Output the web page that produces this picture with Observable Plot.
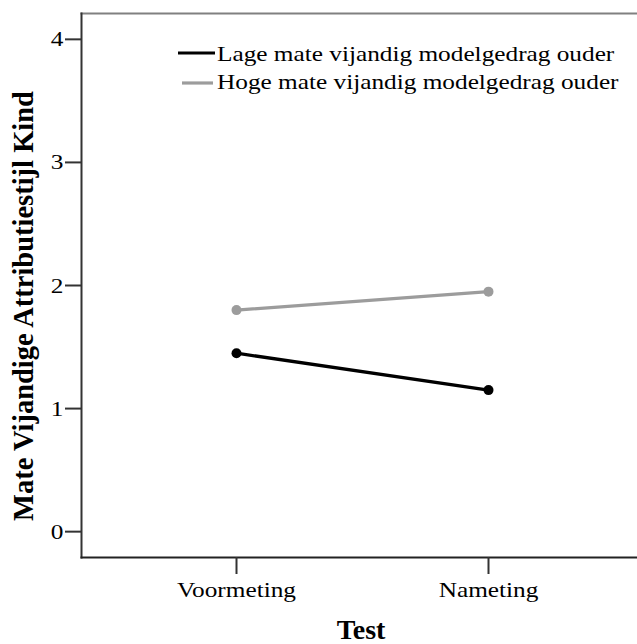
<!DOCTYPE html>
<html><head><meta charset="utf-8">
<script src="https://cdn.jsdelivr.net/npm/d3@7"></script>
<script src="https://cdn.jsdelivr.net/npm/@observablehq/plot@0.6"></script>
<style>
html,body{margin:0;padding:0;background:#fff;}
</style>
</head><body><div id="chart"></div>
<script>
const tests = ["Voormeting", "Nameting"];
const seriesNames = ["Lage mate vijandig modelgedrag ouder", "Hoge mate vijandig modelgedrag ouder"];
const seriesColors = ["#000000", "#9c9c9c"];
const lageValues = [1.45, 1.15];
const hogeValues = [1.80, 1.95];
const yTicks = [0, 1, 2, 3, 4];
const yDomain = [-0.21, 4.21];
const xTitle = "Test";
const yTitle = "Mate Vijandige Attributiestijl Kind";

const data = [
  ...tests.map((t, i) => ({test: t, value: lageValues[i], series: seriesNames[0]})),
  ...tests.map((t, i) => ({test: t, value: hogeValues[i], series: seriesNames[1]}))
];

const W = 637, H = 644, ML = 81, MR = 0, MT = 13, MB = 87;
const font = "'Liberation Serif', 'Times New Roman', serif";
const stretch = 1.15;
const fs = 22;

const chart = Plot.plot({
  width: W, height: H, marginLeft: ML, marginRight: MR, marginTop: MT, marginBottom: MB,
  style: {fontFamily: font, fontSize: fs + "px", color: "#000", background: "#fff"},
  x: {type: "point", domain: tests, padding: 0.603, align: 0.51},
  y: {domain: yDomain},
  color: {domain: seriesNames, range: seriesColors},
  marks: [
    Plot.frame({anchor: "top", stroke: "#808080", strokeWidth: 2}),
    Plot.frame({anchor: "left", stroke: "#333", strokeWidth: 2}),
    Plot.frame({anchor: "bottom", stroke: "#222", strokeWidth: 2}),
    Plot.axisY(yTicks, {tickSize: 16, tickPadding: 2, stroke: "#333", strokeWidth: 2, fill: "#000", label: null, fontSize: fs, tickFormat: d3.format("d")}),
    Plot.axisX(tests, {tickSize: 17, tickPadding: 7, stroke: "#333", strokeWidth: 2, fill: "#000", label: null, fontSize: fs}),
    Plot.line(data, {x: "test", y: "value", z: "series", stroke: "series", strokeWidth: 3.3}),
    Plot.dot(data, {x: "test", y: "value", fill: "series", r: 5})
  ]
});

document.getElementById("chart").appendChild(chart);
const svg = d3.select(chart.tagName.toLowerCase() === "svg" ? chart : chart.querySelector("svg"));

// horizontal stretch of regular text (reference text is horizontally widened)
svg.selectAll('g[aria-label="y-axis tick label"] text, g[aria-label="x-axis tick label"] text').each(function() {
  const el = d3.select(this);
  let tr = el.attr("transform");
  if (!tr) {
    const x = +el.attr("x") || 0, y = +el.attr("y") || 0;
    el.attr("x", null).attr("y", null);
    tr = `translate(${x},${y})`;
  }
  el.attr("transform", tr + ` scale(${stretch},1)`);
});

// legend
const legendRows = [
  {x1: 178, x2: 215, ly: 53, ty: 61},
  {x1: 182, x2: 213, ly: 83, ty: 89}
];
const lg = svg.append("g").attr("font-family", font).attr("font-size", fs).attr("text-anchor", "start");
seriesNames.forEach((name, i) => {
  const r = legendRows[i];
  lg.append("line").attr("x1", r.x1).attr("x2", r.x2).attr("y1", r.ly).attr("y2", r.ly)
    .attr("stroke", seriesColors[i]).attr("stroke-width", 3.2);
  lg.append("text").attr("transform", `translate(217,${r.ty}) scale(${stretch},1)`)
    .attr("text-anchor", "start").attr("fill", "#000").text(name);
});

// axis titles
svg.append("text").attr("transform", "translate(361,639)")
  .attr("text-anchor", "middle").attr("font-family", font).attr("font-weight", "bold")
  .attr("font-size", 28).attr("fill", "#000").text(xTitle);
svg.append("text").attr("transform", "translate(33,306) rotate(-90)")
  .attr("text-anchor", "middle").attr("font-family", font).attr("font-weight", "bold")
  .attr("font-size", 28.5).attr("fill", "#000").text(yTitle);
</script>
</body></html>
